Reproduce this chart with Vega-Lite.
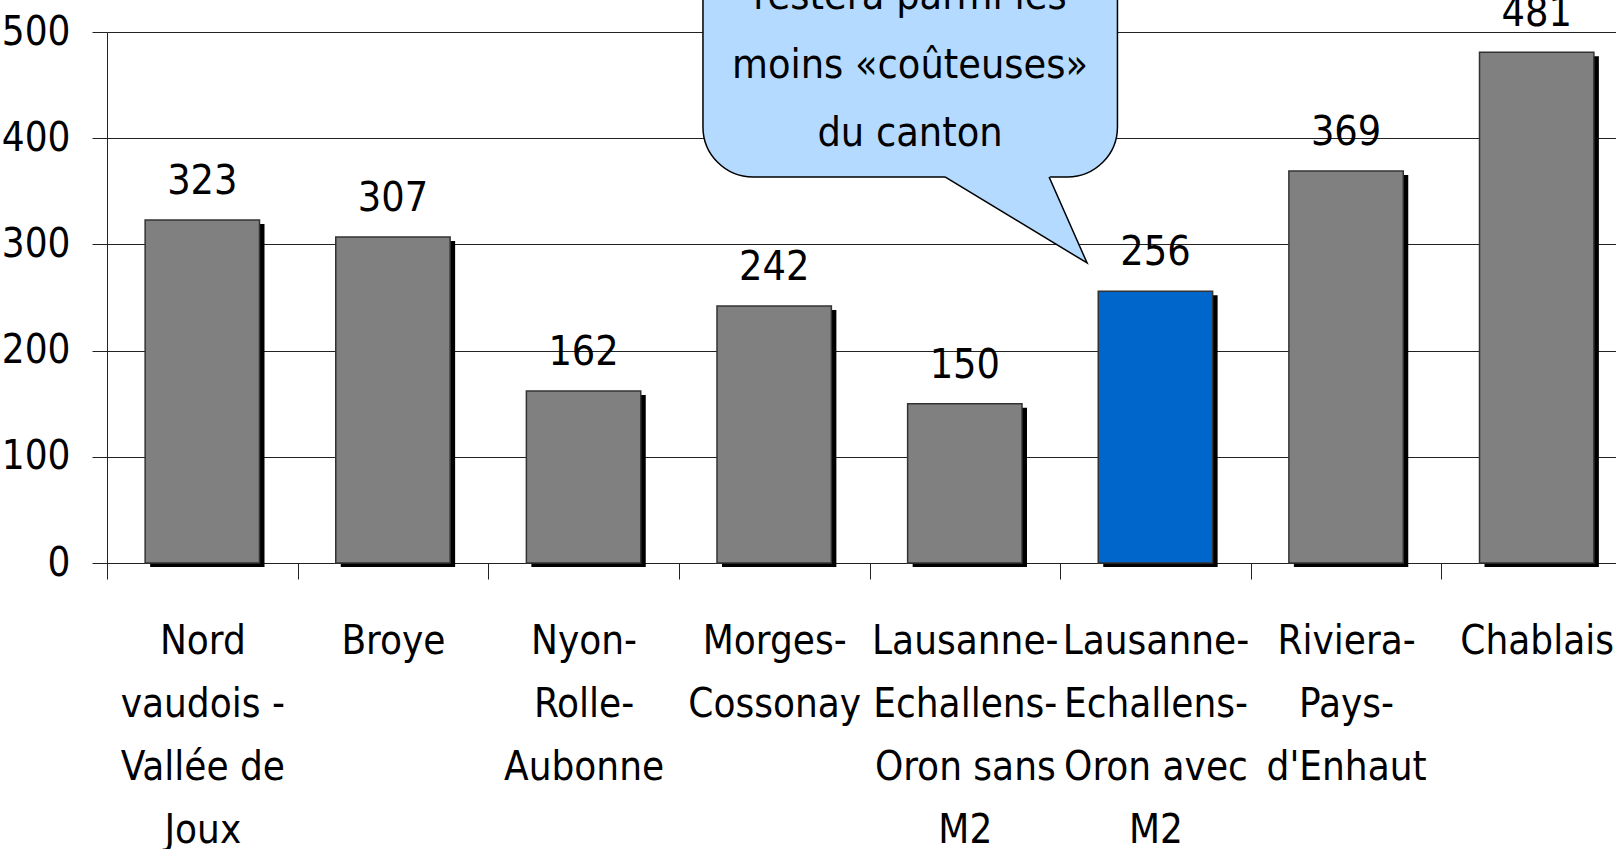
{
  "$schema": "https://vega.github.io/schema/vega-lite/v6.json",
  "autosize": "none",
  "width": 1509,
  "height": 531,
  "padding": {"left": 107, "top": 32, "right": 0, "bottom": 286},
  "background": "white",
  "config": {"font": "DejaVu Sans Condensed", "view": {"stroke": null}},
  "datasets": {
    "bars": [
      {"region": "Nord\nvaudois -\nVallée de\nJoux", "value": 323},
      {"region": "Broye", "value": 307},
      {"region": "Nyon-\nRolle-\nAubonne", "value": 162},
      {"region": "Morges-\nCossonay", "value": 242},
      {"region": "Lausanne-\nEchallens-\nOron sans\nM2", "value": 150},
      {"region": "Lausanne-\nEchallens-\nOron avec\nM2", "value": 256},
      {"region": "Riviera-\nPays-\nd'Enhaut", "value": 369},
      {"region": "Chablais", "value": 481}
    ],
    "box": [{"x": 3.12, "x2": 5.29, "y": 363.5, "y2": 650}],
    "tail": [
      {"x": 4.387, "y": 365.5, "y2": 363.5},
      {"x": 4.932, "y": 365.5, "y2": 304.1},
      {"x": 5.131, "y": 282.5, "y2": 282.5}
    ],
    "tailLine": [
      {"o": 1, "x": 4.387, "y": 363.5},
      {"o": 2, "x": 5.131, "y": 282.5},
      {"o": 3, "x": 4.932, "y": 363.5}
    ],
    "note": [
      {"x": 4.204, "y": 533, "t": "restera parmi les"},
      {"x": 4.204, "y": 468, "t": "moins «coûteuses»"},
      {"x": 4.204, "y": 404, "t": "du canton"}
    ]
  },
  "layer": [
    {
      "data": {"name": "bars"},
      "encoding": {
        "x": {
          "field": "region", "type": "nominal", "sort": null,
          "scale": {"range": [0, 1525], "paddingInner": 0, "paddingOuter": 0},
          "axis": {
            "title": null, "labelAngle": 0, "tickBand": "extent", "tickSize": 16,
            "tickColor": "#222", "domainColor": "#222", "labelColor": "black",
            "labelFontSize": 40, "labelLineHeight": 63, "labelPadding": 42,
            "labelExpr": "split(datum.label, '\\n')", "labelOverlap": false, "labelLimit": 0
          }
        },
        "y": {
          "field": "value", "type": "quantitative",
          "scale": {"domain": [0, 500], "nice": false},
          "axis": {
            "title": null, "values": [0, 100, 200, 300, 400, 500], "tickSize": 15,
            "tickColor": "#222", "domainColor": "#222", "gridColor": "#222", "gridOpacity": 1,
            "labelColor": "black", "labelFontSize": 40, "labelPadding": 22
          }
        }
      },
      "layer": [
        {"mark": {"type": "bar", "color": "black", "width": {"band": 0.6}, "xOffset": 5, "yOffset": 4, "y2Offset": 0}},
        {
          "mark": {"type": "bar", "width": {"band": 0.6}, "stroke": "#333", "strokeWidth": 1.5},
          "encoding": {
            "color": {"condition": {"test": "indexof(datum.region, 'avec') >= 0", "value": "#0066CC"}, "value": "#808080"}
          }
        },
        {
          "mark": {"type": "text", "baseline": "alphabetic", "dy": -26, "fontSize": 41, "color": "black"},
          "encoding": {"text": {"field": "value", "type": "quantitative"}}
        }
      ]
    },
    {
      "layer": [
        {
          "data": {"name": "box"},
          "mark": {"type": "rect", "fill": "#B4DAFF", "stroke": "black", "strokeWidth": 1.5, "cornerRadius": 50, "clip": false},
          "encoding": {
            "x": {"field": "x", "type": "quantitative", "scale": {"domain": [0, 7.9], "nice": false, "zero": false}, "axis": null},
            "x2": {"field": "x2"},
            "y": {"field": "y", "type": "quantitative"},
            "y2": {"field": "y2"}
          }
        },
        {
          "data": {"name": "tail"},
          "mark": {"type": "area", "fill": "#B4DAFF", "opacity": 1, "clip": false},
          "encoding": {
            "x": {"field": "x", "type": "quantitative", "axis": null},
            "y": {"field": "y", "type": "quantitative"},
            "y2": {"field": "y2"}
          }
        },
        {
          "data": {"name": "tailLine"},
          "mark": {"type": "line", "color": "black", "strokeWidth": 1.5, "clip": false},
          "encoding": {
            "x": {"field": "x", "type": "quantitative", "axis": null},
            "y": {"field": "y", "type": "quantitative"},
            "order": {"field": "o", "type": "quantitative"}
          }
        },
        {
          "data": {"name": "note"},
          "mark": {"type": "text", "fontSize": 41, "color": "black", "baseline": "middle", "align": "center"},
          "encoding": {
            "x": {"field": "x", "type": "quantitative", "axis": null},
            "y": {"field": "y", "type": "quantitative"},
            "text": {"field": "t"}
          }
        }
      ]
    }
  ],
  "resolve": {"scale": {"x": "independent"}}
}
